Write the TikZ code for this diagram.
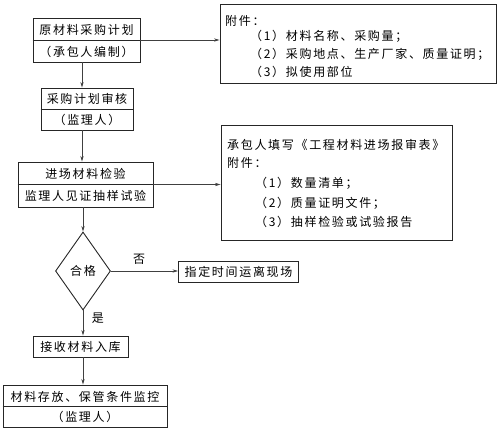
\documentclass[tikz,border=0pt]{standalone}
\usepackage{fontspec}
\setmainfont{Noto Sans CJK SC}[LetterSpace=14]
\usetikzlibrary{arrows.meta,shapes.geometric}
\tikzset{
  lc/.style={draw=black!85, line width=0.9pt},
  box/.style={lc, rectangle, inner sep=0pt},
  txt/.style={inner sep=0pt, font=\fontsize{12}{14}\selectfont, text=black},
  ltxt/.style={txt, anchor=west},
  conn/.style={draw=black!75, line width=0.6pt, -{Stealth[length=5.5pt,width=3.2pt]}},
}
\begin{document}
\begin{tikzpicture}[x=1pt,y=-1pt]
\useasboundingbox (0,0) rectangle (499,430);
% left column boxes
\node[box, minimum width=107pt, minimum height=44pt] (b1) at (86.5,40) {};
\draw[lc] (b1.west) -- (b1.east);
\node[txt] (b1a) at (86.5,30) {原材料采购计划};
\node[txt] (b1b) at (86.5,51.5) {（承包人编制）};

\node[box, minimum width=92pt, minimum height=42pt] (b2) at (87,109) {};
\draw[lc] (b2.west) -- (b2.east);
\node[txt] (b2a) at (87,99) {采购计划审核};
\node[txt] (b2b) at (87,120) {（监理人）};

\node[box, minimum width=135pt, minimum height=45pt] (b3) at (85.5,184.5) {};
\draw[lc] (b3.west) -- (b3.east);
\node[txt] (b3a) at (85.5,173.5) {进场材料检验};
\node[txt] (b3b) at (85.5,195.5) {监理人见证抽样试验};

\node[lc, diamond, minimum width=55pt, minimum height=78pt, inner sep=0pt] (d) at (83,271) {};
\node[txt] (dt) at (83,271) {合格};

\node[box, minimum width=120pt, minimum height=21pt] (no) at (238.5,272) {};
\node[txt] (not) at (238.5,272) {指定时间运离现场};

\node[box, minimum width=95pt, minimum height=21pt] (b4) at (80.5,346.5) {};
\node[txt] (b4t) at (80.5,346.5) {接收材料入库};

\node[box, minimum width=164pt, minimum height=42pt] (b5) at (85,406) {};
\draw[lc] (b5.west) -- (b5.east);
\node[txt] (b5a) at (85,396.5) {材料存放、保管条件监控};
\node[txt] (b5b) at (85,416.5) {（监理人）};

% right boxes
\node[box, minimum width=276pt, minimum height=79pt] (r1) at (358,43.5) {};
\node[ltxt] (r1a) at (225,21) {附件：};
\node[ltxt] (r1b) at (250,36) {（1）材料名称、采购量；};
\node[ltxt] (r1c) at (250,54) {（2）采购地点、生产厂家、质量证明；};
\node[ltxt] (r1d) at (250,72) {（3）拟使用部位};

\node[box, minimum width=231pt, minimum height=115pt] (r2) at (336.5,182.5) {};
\node[ltxt] (r2a) at (227,145) {承包人填写《工程材料进场报审表》};
\node[ltxt] (r2b) at (227,163) {附件：};
\node[ltxt] (r2c) at (255,183) {（1）数量清单；};
\node[ltxt] (r2d) at (255,203) {（2）质量证明文件；};
\node[ltxt] (r2e) at (255,222) {（3）抽样检验或试验报告};

% labels
\node[txt] (lno) at (139,259) {否};
\node[txt] (lyes) at (98,318) {是};

% connectors
\coordinate (sp) at (82,0);
\draw[conn] (b1.south -| sp) -- (b2.north -| sp);
\draw[conn] (b2.south -| sp) -- (b3.north -| sp);
\draw[conn] (b3.south -| d.north) -- (d.north);
\draw[conn] (d.south) -- (b4.north -| d.south);
\draw[conn] (b4.south -| d.south) -- (b5.north -| d.south);
\draw[conn] (b1.east) -- (b1.east -| r1.west);
\draw[conn] (b3.east) -- (b3.east -| r2.west);
\draw[conn] (d.east) -- (d.east -| no.west);
\end{tikzpicture}
\end{document}
